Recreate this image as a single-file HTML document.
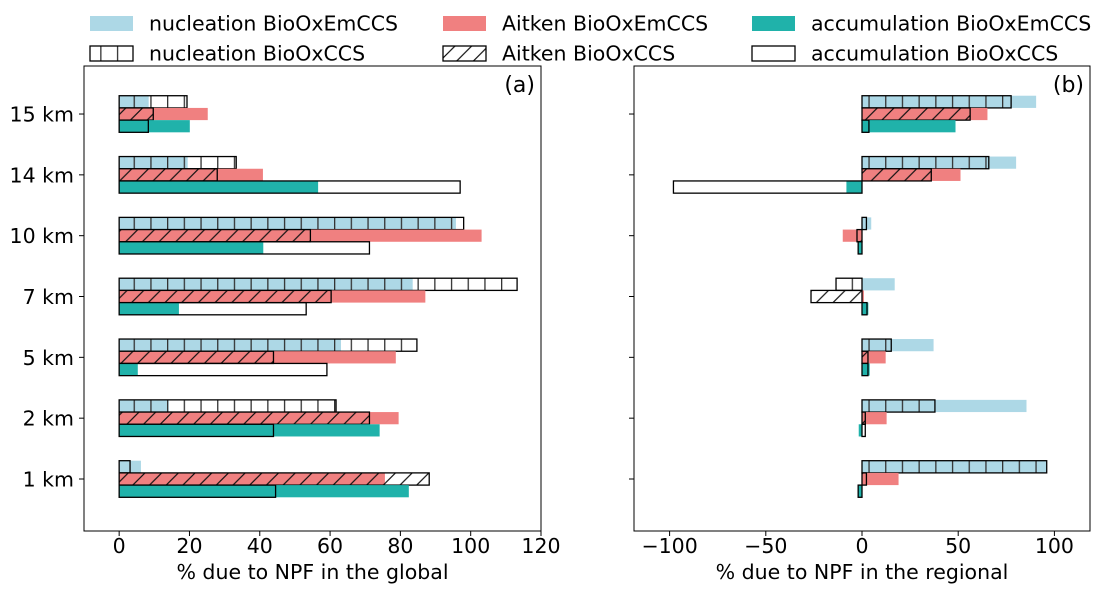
<!DOCTYPE html>
<html><head><meta charset="utf-8"><style>
html,body{margin:0;padding:0;background:#fff}
svg{display:block;font-family:"DejaVu Sans","Liberation Sans",sans-serif}
</style></head><body>
<svg id="chart" width="1107" height="594" viewBox="0 0 1107 594">
<defs>
<pattern id="hv" patternUnits="userSpaceOnUse" width="16.7" height="40"><line x1="0.5" y1="0" x2="0.5" y2="40" stroke="#333" stroke-width="1.6"/></pattern>
<pattern id="hd" patternUnits="userSpaceOnUse" width="16.7" height="16.7"><path d="M-2,18.7 L18.7,-2 M14.7,18.7 L35.4,-2 M-18.7,18.7 L2,-2" stroke="#111" stroke-width="1.2"/></pattern>
</defs>
<g id="legend"></g>
<g id="pa"></g>
<g id="pb"></g>
</svg>
<script>
const categories = ["1 km","2 km","5 km","7 km","10 km","14 km","15 km"];
const globNucEm  = [6.2,14.1,63.1,83.5,95.8,19.5,8.4];
const globNucCCS = [3.1,61.7,84.7,113.2,98,33.3,19.3];
const globAitEm  = [75.6,79.5,78.7,87.1,103.1,40.9,25.2];
const globAitCCS = [88.2,71.2,43.9,60.3,54.4,27.9,9.7];
const globAccEm  = [82.4,74.1,5.3,17,41,56.6,20.1];
const globAccCCS = [44.5,43.9,59.1,53.2,71.2,97,8.3];
const regNucEm   = [95.7,85.5,37.2,17,4.8,80.1,90.5];
const regNucCCS  = [96,37.9,15.2,-13.5,2.3,65.9,77.5];
const regAitEm   = [19,12.8,12.3,1,-10,51.2,65.2];
const regAitCCS  = [2.3,1.7,3.1,-26.5,-2.6,36,56.2];
const regAccEm   = [-2,-1.7,4,3.3,-2,-8.1,48.6];
const regAccCCS  = [-2,1.7,3.1,2.6,-2,-98,3.6];
const ticksA = [0,20,40,60,80,100,120];
const ticksB = [-100,-50,0,50,100];

const NS="http://www.w3.org/2000/svg";
const FS=20.5;
function mk(parent,tag,attrs){const e=document.createElementNS(NS,tag);for(const k in attrs)e.setAttribute(k,attrs[k]);parent.appendChild(e);return e;}
const yOf = i => 479 - i*60.83;
const BH = 12.2;
const C = {nuc:"#add8e6", ait:"#f08080", acc:"#20b2aa"};

function panel(g, L, R, xmin, xmax, ticks, sets, xlabel, tag, showY, pname){
  const xs = v => L + (v - xmin)/(xmax - xmin)*(R - L);
  const T=66,B=531;
  sets.forEach(s=>{
    s.vals.forEach((v,i)=>{
      const x0=xs(0), x1=xs(v);
      const y=yOf(i)+s.off*BH-BH/2;
      const r=mk(g,"rect",{x:Math.min(x0,x1),y:y,width:Math.abs(x1-x0),height:BH,
        fill:s.fill,stroke:s.stroke||"none","stroke-width":s.stroke?1.3:0});
      
      
    });
  });
  const fr=mk(g,"rect",{x:L,y:T,width:R-L,height:B-T,fill:"none",stroke:"#000","stroke-width":1});
  
  
  ticks.forEach(t=>{
    const x=xs(t);
    mk(g,"line",{x1:x,y1:B,x2:x,y2:B+5,stroke:"#000"});
    const tx=mk(g,"text",{x:x,y:553,"font-size":FS,"text-anchor":"middle"});
    tx.textContent = t<0 ? "\u2212"+(-t) : String(t);
    
    
  });
  categories.forEach((c,i)=>{
    const y=yOf(i);
    mk(g,"line",{x1:L-5,y1:y,x2:L,y2:y,stroke:"#000"});
    if(showY){
      const t=mk(g,"text",{x:L-10,y:y+7.5,"font-size":FS,"text-anchor":"end"});
      t.textContent=c;
      
      
    }
  });
  const xl=mk(g,"text",{x:(L+R)/2,y:579,"font-size":FS,"text-anchor":"middle"});
  xl.textContent=xlabel;
  
  
  const pl=mk(g,"text",{x:R-6,y:92,"font-size":22,"text-anchor":"end"});
  pl.textContent=tag;
  
  
}
function sets(nE,nC,aE,aC,cE,cC){
  return [
    {name:"nucleation-em",vals:nE,off:-1,fill:C.nuc},
    {name:"nucleation-ccs",vals:nC,off:-1,fill:"url(#hv)",stroke:"#000"},
    {name:"aitken-em",vals:aE,off:0,fill:C.ait},
    {name:"aitken-ccs",vals:aC,off:0,fill:"url(#hd)",stroke:"#000"},
    {name:"accumulation-em",vals:cE,off:1,fill:C.acc},
    {name:"accumulation-ccs",vals:cC,off:1,fill:"none",stroke:"#000"}
  ];
}
panel(document.getElementById("pa"),84,541,-10,120,ticksA,
  sets(globNucEm,globNucCCS,globAitEm,globAitCCS,globAccEm,globAccCCS),
  "% due to NPF in the global","(a)",true,"panel-a");
panel(document.getElementById("pb"),634,1090,-118.5,118.5,ticksB,
  sets(regNucEm,regNucCCS,regAitEm,regAitCCS,regAccEm,regAccCCS),
  "% due to NPF in the regional","(b)",false,"panel-b");

const lg=document.getElementById("legend");
const items=[
  [90,16,C.nuc,null,"nucleation BioOxEmCCS"],
  [90,46,"url(#hv)","#000","nucleation BioOxCCS"],
  [443,16,C.ait,null,"Aitken BioOxEmCCS"],
  [443,46,"url(#hd)","#000","Aitken BioOxCCS"],
  [752,16,C.acc,null,"accumulation BioOxEmCCS"],
  [752,46,"none","#000","accumulation BioOxCCS"]
];
items.forEach(it=>{
  const r=mk(lg,"rect",{x:it[0],y:it[1],width:43,height:15,fill:it[2],stroke:it[3]||"none","stroke-width":it[3]?1.3:0});
  
  
  const t=mk(lg,"text",{x:it[0]+59,y:it[1]+14.5,"font-size":FS});
  t.textContent=it[4];
  
  
});
</script>
</body></html>
